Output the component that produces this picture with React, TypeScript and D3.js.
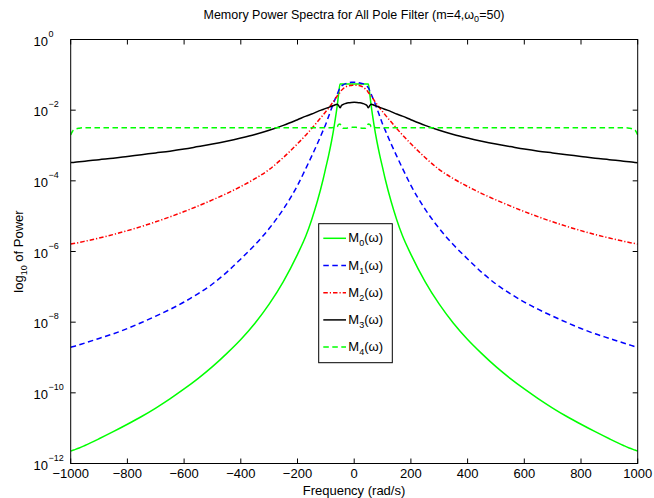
import React from 'react';
import * as d3 from 'd3';

// Half spectrum (spectra are symmetric in frequency); values are log10 of power
const freqHalf = [0, 10, 20, 30, 40, 45, 50, 55, 60, 70, 80, 90, 100, 110, 130, 150, 170, 200, 250, 300, 350, 400, 450, 500, 550, 600, 650, 700, 750, 800, 850, 900, 950, 970, 990, 1000];
const m0Log = [-1.26, -1.26, -1.26, -1.26, -1.26, -1.26, -1.26, -1.55, -1.88, -2.42, -2.88, -3.27, -3.62, -3.97, -4.58, -5.1, -5.55, -6.08, -6.85, -7.49, -8.03, -8.49, -8.89, -9.26, -9.59, -9.89, -10.17, -10.43, -10.67, -10.89, -11.1, -11.3, -11.49, -11.56, -11.62, -11.65];
const m1Log = [-1.21, -1.21, -1.23, -1.25, -1.29, -1.32, -1.37, -1.45, -1.55, -1.74, -1.95, -2.17, -2.39, -2.58, -2.95, -3.3, -3.64, -4.13, -4.8, -5.35, -5.81, -6.21, -6.59, -6.92, -7.19, -7.43, -7.64, -7.83, -8.01, -8.18, -8.33, -8.46, -8.59, -8.64, -8.69, -8.71];
const m2Log = [-1.29, -1.3, -1.31, -1.34, -1.4, -1.44, -1.5, -1.55, -1.6, -1.72, -1.83, -1.94, -2.04, -2.14, -2.33, -2.52, -2.7, -2.95, -3.34, -3.68, -3.94, -4.16, -4.36, -4.54, -4.71, -4.87, -5.02, -5.16, -5.29, -5.41, -5.52, -5.62, -5.71, -5.745, -5.775, -5.79];
const m3Log = [-1.777, -1.78, -1.79, -1.81, -1.84, -1.87, -1.93, -1.87, -1.83, -1.86, -1.89, -1.92, -1.95, -1.98, -2.04, -2.11, -2.17, -2.27, -2.43, -2.57, -2.69, -2.79, -2.88, -2.96, -3.03, -3.1, -3.16, -3.21, -3.26, -3.31, -3.36, -3.4, -3.445, -3.46, -3.478, -3.485];
const m4Log = [-2.48, -2.49, -2.5, -2.51, -2.51, -2.46, -2.39, -2.4, -2.47, -2.49, -2.495, -2.495, -2.495, -2.495, -2.495, -2.495, -2.495, -2.495, -2.495, -2.495, -2.495, -2.495, -2.495, -2.495, -2.495, -2.495, -2.495, -2.495, -2.495, -2.495, -2.495, -2.495, -2.495, -2.51, -2.56, -2.7];

const seriesIdx = ['0', '1', '2', '3', '4'];
const seriesColors = ['#00ff00', '#0000ff', '#ff0000', '#000000', '#00ff00'];
const seriesDash = [null, '5.5,3.5', '4.5,2,1.2,2', null, '5.5,3.5'];
const seriesData = [m0Log, m1Log, m2Log, m3Log, m4Log];

const xTicks = [-1000, -800, -600, -400, -200, 0, 200, 400, 600, 800, 1000];
const yTickExps = [0, -2, -4, -6, -8, -10, -12];

const FONT = '"Liberation Sans", Arial, Helvetica, sans-serif';

export default function App() {
  const W = 654, H = 498;
  const left = 70.7, right = 637.7, top = 39.5, bottom = 463.5;
  const x = d3.scaleLinear().domain([-1000, 1000]).range([left, right]);
  const y = d3.scaleLog().domain([1e-12, 1]).range([bottom, top]);

  const makePts = (vals: number[]) => {
    const pts: [number, number][] = [];
    for (let i = freqHalf.length - 1; i > 0; i--) pts.push([-freqHalf[i], Math.pow(10, vals[i])]);
    for (let i = 0; i < freqHalf.length; i++) pts.push([freqHalf[i], Math.pow(10, vals[i])]);
    return pts;
  };
  const line = d3.line<[number, number]>().x(d => x(d[0])).y(d => y(d[1])).curve(d3.curveMonotoneX);

  const tickLen = 5;
  const legX = 318.7, legY = 223.7, legW = 73.6, legH = 139;
  const legRow0 = 238.3, legStep = 27.2;

  return (
    <svg width={W} height={H} style={{ position: 'absolute', left: 0, top: 0, background: '#fff' }} fontFamily={FONT}>
      <defs>
        <clipPath id="plotclip">
          <rect x={left} y={top} width={right - left} height={bottom - top} />
        </clipPath>
      </defs>
      <rect x={0} y={0} width={W} height={H} fill="#fff" />
      <g clipPath="url(#plotclip)">
        {seriesData.map((vals, i) => (
          <path key={i} d={line(makePts(vals)) || ''} fill="none" stroke={seriesColors[i]}
            strokeWidth={1.5} strokeDasharray={seriesDash[i] || undefined} />
        ))}
      </g>
      {/* axes box */}
      <rect x={left} y={top} width={right - left} height={bottom - top} fill="none" stroke="#000" strokeWidth={1} />
      {xTicks.map(t => (
        <g key={'xt' + t}>
          <line x1={x(t)} x2={x(t)} y1={bottom} y2={bottom - tickLen} stroke="#000" strokeWidth={1} />
          <line x1={x(t)} x2={x(t)} y1={top} y2={top + tickLen} stroke="#000" strokeWidth={1} />
          <text x={x(t)} y={478} textAnchor="middle" fontSize={13}>{t < 0 ? '\u2212' + Math.abs(t) : String(t)}</text>
        </g>
      ))}
      {yTickExps.map(e => {
        const yy = y(Math.pow(10, e));
        return (
          <g key={'yt' + e}>
            <line x1={left} x2={left + tickLen} y1={yy} y2={yy} stroke="#000" strokeWidth={1} />
            <line x1={right} x2={right - tickLen} y1={yy} y2={yy} stroke="#000" strokeWidth={1} />
            <text x={48} y={yy + 6} textAnchor="end" fontSize={13}>10</text>
            <text x={48.5} y={yy - 3} textAnchor="start" fontSize={9}>{e < 0 ? '\u2212' + Math.abs(e) : String(e)}</text>
          </g>
        );
      })}
      {/* title */}
      <text x={354} y={19} textAnchor="middle" fontSize={12.5}>
        Memory Power Spectra for All Pole Filter (m=4,ω<tspan fontSize={9} dy={3}>0</tspan><tspan dy={-3}>=50)</tspan>
      </text>
      {/* x label */}
      <text x={354} y={495} textAnchor="middle" fontSize={13}>Frequency (rad/s)</text>
      {/* y label */}
      <text transform={`translate(23,${(top + bottom) / 2}) rotate(-90)`} textAnchor="middle" fontSize={13}>
        log<tspan fontSize={9} dy={4}>10</tspan><tspan dy={-4}> of Power</tspan>
      </text>
      {/* legend */}
      <rect x={legX} y={legY} width={legW} height={legH} fill="#fff" stroke="#000" strokeWidth={1} />
      {seriesIdx.map((s, i) => {
        const ly = legRow0 + i * legStep;
        return (
          <g key={'lg' + i}>
            <line x1={323.3} x2={346} y1={ly} y2={ly} stroke={seriesColors[i]} strokeWidth={1.5}
              strokeDasharray={seriesDash[i] || undefined} />
            <text x={348.3} y={ly + 4} fontSize={13}>
              M<tspan fontSize={9} dy={4}>{s}</tspan><tspan dy={-4}>(ω)</tspan>
            </text>
          </g>
        );
      })}
    </svg>
  );
}
